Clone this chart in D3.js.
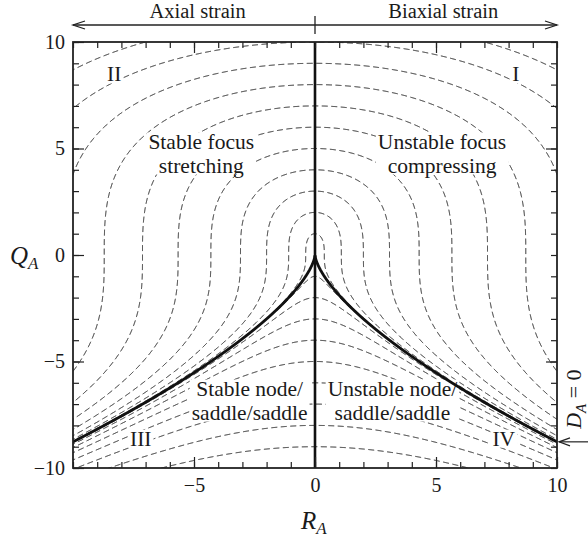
<!DOCTYPE html>
<html><head><meta charset="utf-8">
<script src="https://cdn.jsdelivr.net/npm/d3@7"></script>
<style>
html,body{margin:0;padding:0;background:#fff;}
svg{display:block;}
text{font-family:"Liberation Serif","Times New Roman",serif;fill:#1a1a1a;}
</style></head>
<body>
<svg id="chart" width="588" height="537"></svg>
<script>
// ---- data ----
// Q_A value where each dashed contour of D_A crosses R_A = 0 (D_A = q^3)
const upperLevelRoots = [1, 2, 3, 4, 5, 6, 7, 8, 9, 10, 11];
const lowerLevelRoots = [-1, -2, -3, -4, -5, -6, -7, -8, -9];
const discriminantZero = [0];                 // solid curve D_A = 0
const xTickLabels = [-5, 0, 5, 10];
const yTickLabels = [-10, -5, 0, 5, 10];
const minorTicks = d3.range(-10, 11, 1);
const regionLabels = [
  {text: ["II"], R: -8.3, Q: 8.15},
  {text: ["I"], R: 8.3, Q: 8.15},
  {text: ["III"], R: -7.2, Q: -8.95},
  {text: ["IV"], R: 7.8, Q: -8.95},
  {text: ["Stable focus", "stretching"], R: -4.7, Q: 5.0},
  {text: ["Unstable focus", "compressing"], R: 5.25, Q: 5.0},
  {text: ["Stable node/", "saddle/saddle"], R: -2.7, Q: -6.6},
  {text: ["Unstable node/", "saddle/saddle"], R: 3.2, Q: -6.6}
];
const strainLabels = [{text: "Axial strain", R: -4.85}, {text: "Biaxial strain", R: 5.3}];

(function () {
// ---- layout ----
const svg = d3.select("#chart");
const x = d3.scaleLinear().domain([-10, 10]).range([73, 557]);
const y = d3.scaleLinear().domain([-10, 10]).range([468, 42]);
const K = 27 / 4;

svg.append("defs").append("clipPath").attr("id", "plotclip")
  .append("rect").attr("x", x(-10)).attr("y", y(10))
  .attr("width", x(10) - x(-10)).attr("height", y(-10) - y(10));

function contourPoints(D) {
  const pts = [];
  const n = 4000;
  for (let i = 0; i <= n; i++) {
    const R = -10.5 + 21 * i / n;
    pts.push([R, Math.cbrt(D - K * R * R)]);
  }
  for (let j = 0; j <= 2400; j++) {
    const Q = -12 + 24 * j / 2400;
    const v = (D - Q * Q * Q) / K;
    if (v >= 0) {
      const r = Math.sqrt(v);
      if (r <= 10.5) { pts.push([r, Q]); pts.push([-r, Q]); }
    }
  }
  pts.sort((a, b) => a[0] - b[0]);
  return pts;
}
const line = d3.line().x(d => x(d[0])).y(d => y(d[1]));

const plot = svg.append("g").attr("clip-path", "url(#plotclip)");
const levels = upperLevelRoots.concat(lowerLevelRoots).map(q => q * q * q);
plot.selectAll("path.contour").data(levels).join("path")
  .attr("class", "contour")
  .attr("d", D => line(contourPoints(D)))
  .attr("fill", "none").attr("stroke", "#111").attr("stroke-width", 1)
  .attr("stroke-dasharray", "6,3.5");

// region label knockouts + text
const lab = svg.append("g");
regionLabels.forEach(L => {
  const g = lab.append("g");
  const t = g.append("text").attr("text-anchor", "middle")
    .attr("font-size", 21.5);
  L.text.forEach((s, i) => {
    t.append("tspan").attr("x", x(L.R)).attr("y", y(L.Q) + i * 24).text(s);
  });
  const bb = t.node().getBBox();
  g.insert("rect", "text").attr("x", bb.x - 2).attr("y", bb.y + 3)
    .attr("width", bb.width + 4).attr("height", bb.height - 6).attr("fill", "#fff");
});

// solid lines
const solid = svg.append("g").attr("clip-path", "url(#plotclip)");
solid.selectAll("path.dzero").data(discriminantZero).join("path")
  .attr("class", "dzero")
  .attr("d", D => line(contourPoints(D)))
  .attr("fill", "none").attr("stroke", "#111").attr("stroke-width", 2.8)
  .attr("stroke-linejoin", "miter");
solid.append("line").attr("x1", x(0)).attr("x2", x(0)).attr("y1", y(-10)).attr("y2", y(10))
  .attr("stroke", "#111").attr("stroke-width", 2.6);

// axes (inward ticks on all four sides)
function styleAxis(g) {
  g.select(".domain").remove();
  g.selectAll("line").attr("stroke", "#222").attr("stroke-width", 1.2);
  g.selectAll("text").attr("font-family", "Liberation Serif, serif").attr("font-size", 20).attr("fill", "#1a1a1a");
}
const axes = svg.append("g");
axes.append("g").attr("transform", `translate(0,${y(-10)})`)
  .call(d3.axisBottom(x).tickValues(minorTicks).tickSize(-6).tickFormat("")).call(styleAxis);
axes.append("g").attr("transform", `translate(0,${y(-10)})`)
  .call(d3.axisBottom(x).tickValues(xTickLabels).tickSize(-11).tickPadding(10)).call(styleAxis);
axes.append("g").attr("transform", `translate(0,${y(10)})`)
  .call(d3.axisTop(x).tickValues(minorTicks).tickSize(-6).tickFormat("")).call(styleAxis);
axes.append("g").attr("transform", `translate(0,${y(10)})`)
  .call(d3.axisTop(x).tickValues([-5, 5]).tickSize(-11).tickFormat("")).call(styleAxis);
axes.append("g").attr("transform", `translate(${x(-10)},0)`)
  .call(d3.axisLeft(y).tickValues(minorTicks).tickSize(-6).tickFormat("")).call(styleAxis);
axes.append("g").attr("transform", `translate(${x(-10)},0)`)
  .call(d3.axisLeft(y).tickValues(yTickLabels).tickSize(-11).tickPadding(8)).call(styleAxis);
axes.append("g").attr("transform", `translate(${x(10)},0)`)
  .call(d3.axisRight(y).tickValues(minorTicks).tickSize(-6).tickFormat("")).call(styleAxis);
axes.append("g").attr("transform", `translate(${x(10)},0)`)
  .call(d3.axisRight(y).tickValues([-5, 5]).tickSize(-11).tickFormat("")).call(styleAxis);

// frame
svg.append("rect").attr("x", x(-10)).attr("y", y(10))
  .attr("width", x(10) - x(-10)).attr("height", y(-10) - y(10))
  .attr("fill", "none").attr("stroke", "#222").attr("stroke-width", 1.8);

// axis titles
svg.append("text").attr("x", 10).attr("y", 264).attr("font-size", 25).attr("font-style", "italic")
  .text("Q").append("tspan").attr("font-size", 17).attr("dy", 5).text("A");
svg.append("text").attr("x", 301).attr("y", 529).attr("font-size", 25).attr("font-style", "italic")
  .text("R").append("tspan").attr("font-size", 17).attr("dy", 5).text("A");

// top strain arrow
const arrY = 25;
const topG = svg.append("g").attr("stroke", "#222").attr("stroke-width", 1.3).attr("fill", "none");
topG.append("line").attr("x1", x(-10)).attr("x2", x(10)).attr("y1", arrY).attr("y2", arrY);
topG.append("line").attr("x1", x(0)).attr("x2", x(0)).attr("y1", 16).attr("y2", 34);
topG.append("path").attr("d", `M${x(-10) + 12},${arrY - 4}L${x(-10)},${arrY}L${x(-10) + 12},${arrY + 4}`);
topG.append("path").attr("d", `M${x(10) - 12},${arrY - 4}L${x(10)},${arrY}L${x(10) - 12},${arrY + 4}`);
svg.selectAll("text.strain").data(strainLabels).join("text").attr("class", "strain")
  .attr("x", d => x(d.R)).attr("y", 18).attr("text-anchor", "middle").attr("font-size", 20.5)
  .text(d => d.text);

// D_A = 0 marker on the right
const qEdge = -Math.cbrt(K * 100);
const ay = y(qEdge);
const ra = svg.append("g").attr("stroke", "#222").attr("stroke-width", 1.2).attr("fill", "none");
ra.append("line").attr("x1", 588).attr("x2", x(10) + 2).attr("y1", ay).attr("y2", ay);
ra.append("path").attr("d", `M${x(10) + 13},${ay - 4}L${x(10) + 2},${ay}L${x(10) + 13},${ay + 4}`);
const dt = svg.append("text").attr("transform", `translate(581,${ay - 13}) rotate(-90)`)
  .attr("font-size", 22);
dt.append("tspan").attr("font-style", "italic").text("D");
dt.append("tspan").attr("font-style", "italic").attr("font-size", 15).attr("dy", 5).text("A");
dt.append("tspan").attr("dy", -5).text(" = 0");
})();
</script>
</body></html>
